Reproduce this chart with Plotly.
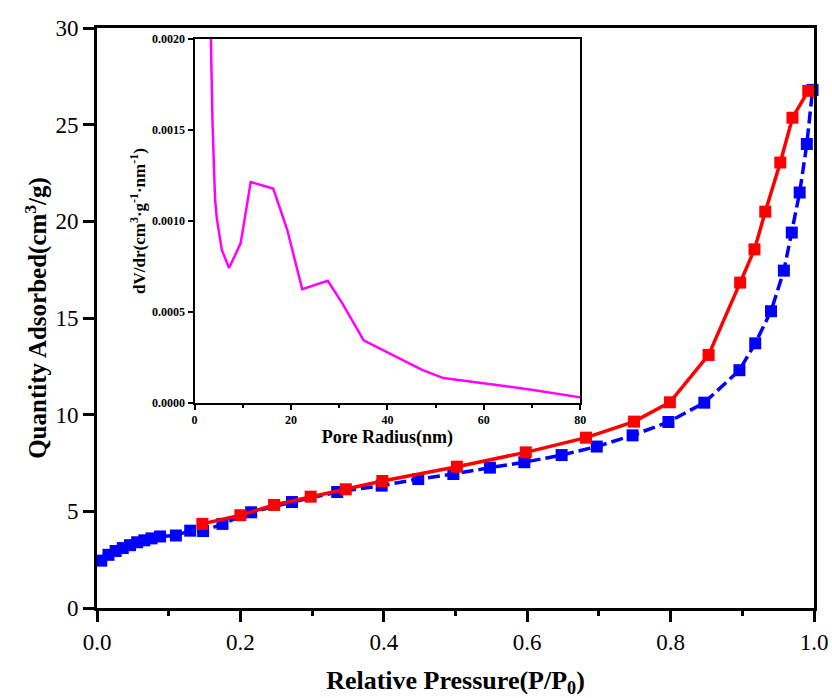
import plotly.graph_objects as go

# Main isotherm data
ads_x = [0.006, 0.016, 0.026, 0.036, 0.046, 0.056, 0.066, 0.076, 0.088, 0.11, 0.13, 0.148,
         0.175, 0.215, 0.272, 0.335, 0.397, 0.448, 0.497, 0.548, 0.596, 0.648, 0.697,
         0.747, 0.797, 0.847, 0.896, 0.918, 0.940, 0.958, 0.969, 0.980, 0.990, 0.998]
ads_y = [2.45, 2.75, 2.95, 3.1, 3.25, 3.4, 3.5, 3.6, 3.7, 3.75, 4.0, 3.98,
         4.35, 4.95, 5.48, 6.0, 6.33, 6.67, 6.93, 7.26, 7.54, 7.91, 8.35,
         8.93, 9.62, 10.62, 12.3, 13.69, 15.35, 17.45, 19.42, 21.49, 24.0, 26.8]

des_x = [0.147, 0.2, 0.247, 0.298, 0.347, 0.398, 0.502, 0.598, 0.682, 0.749, 0.799,
         0.853, 0.897, 0.917, 0.932, 0.953, 0.970, 0.992]
des_y = [4.35, 4.8, 5.33, 5.76, 6.14, 6.57, 7.31, 8.05, 8.81, 9.64, 10.64,
         13.09, 16.83, 18.55, 20.5, 23.04, 25.36, 26.75]

# Inset pore-size distribution
pore_r = [3.1, 3.38, 3.72, 4.07, 4.27, 4.62, 5.65, 7.17, 9.58, 11.65, 16.33, 19.23,
          22.33, 27.64, 30.6, 35.08, 39.56, 47.1, 51.6, 59.5, 69.9, 80.0]
pore_dv = [0.0024, 0.0020, 0.001557, 0.001264, 0.001117, 0.001016, 0.000842, 0.000742,
           0.000879, 0.001214, 0.001178, 0.000952, 0.000626, 0.000672, 0.00055,
           0.000344, 0.000284, 0.000183, 0.000137, 0.00011, 0.0000733, 0.0000311]

FONT = "Liberation Serif"

fig = go.Figure()
fig.add_trace(go.Scatter(x=ads_x, y=ads_y, mode="lines+markers",
                         line=dict(color="#0000FF", width=3.5, dash="12px,5px"),
                         marker=dict(symbol="square", size=12, color="#0000FF"),
                         showlegend=False, cliponaxis=False))
fig.add_trace(go.Scatter(x=des_x, y=des_y, mode="lines+markers",
                         line=dict(color="#FF0000", width=3.5),
                         marker=dict(symbol="square", size=12, color="#FF0000"),
                         showlegend=False, cliponaxis=False))
fig.add_trace(go.Scatter(x=pore_r, y=pore_dv, mode="lines", xaxis="x2", yaxis="y2",
                         line=dict(color="#FF00FF", width=2.5), showlegend=False))

fig.update_layout(
    width=832, height=698,
    margin=dict(l=97, r=15, t=28, b=90),
    paper_bgcolor="white", plot_bgcolor="white",
    font=dict(family=FONT, color="black"),
    xaxis=dict(range=[0, 1], dtick=0.2, tickformat=".1f", showgrid=False, zeroline=False,
               automargin=False,
               showline=True, linewidth=3, linecolor="black", mirror=True,
               ticks="outside", ticklen=11, tickwidth=3, tickcolor="black",
               minor=dict(ticks="outside", dtick=0.1, ticklen=5, tickwidth=3, tickcolor="black"),
               tickfont=dict(size=23, family=FONT),
               title=dict(text="<b>Relative Pressure(P/P<sub>0</sub>)</b>",
                          font=dict(size=26, family=FONT), standoff=20)),
    yaxis=dict(range=[0, 30], dtick=5, showgrid=False, zeroline=False,
               automargin=False,
               showline=True, linewidth=3, linecolor="black", mirror=True,
               ticks="outside", ticklen=11, tickwidth=3, tickcolor="black",
               tickfont=dict(size=23, family=FONT),
               title=dict(text="<b>Quantity Adsorbed(cm<sup>3</sup>/g)</b>",
                          font=dict(size=25, family=FONT), standoff=2)),
    xaxis2=dict(domain=[0.136, 0.674], anchor="y2", range=[0, 80], dtick=20,
                showgrid=False, zeroline=False, showline=True, linewidth=2,
                linecolor="black", mirror=True, ticks="outside", ticklen=5, tickwidth=2,
                tickcolor="black",
                minor=dict(ticks="outside", dtick=10, ticklen=3, tickwidth=1.5, tickcolor="black"),
                tickfont=dict(size=12, family=FONT, weight="bold"),
                title=dict(text="<b>Pore Radius(nm)</b>", font=dict(size=18, family=FONT), standoff=0)),
    yaxis2=dict(domain=[0.3534, 0.981], anchor="x2", range=[0, 0.002], dtick=0.0005,
                tickformat=".4f", showgrid=False, zeroline=False, showline=True, linewidth=2,
                linecolor="black", mirror=True, ticks="outside", ticklen=5, tickwidth=2,
                tickcolor="black",
                tickfont=dict(size=12, family=FONT, weight="bold"),
                title=dict(text="<b>dV/dr(cm<sup>3</sup>·g<sup>-1</sup>·nm<sup>-1</sup>)</b>",
                           font=dict(size=17, family=FONT), standoff=2)),
)

fig.write_html("out.html")
